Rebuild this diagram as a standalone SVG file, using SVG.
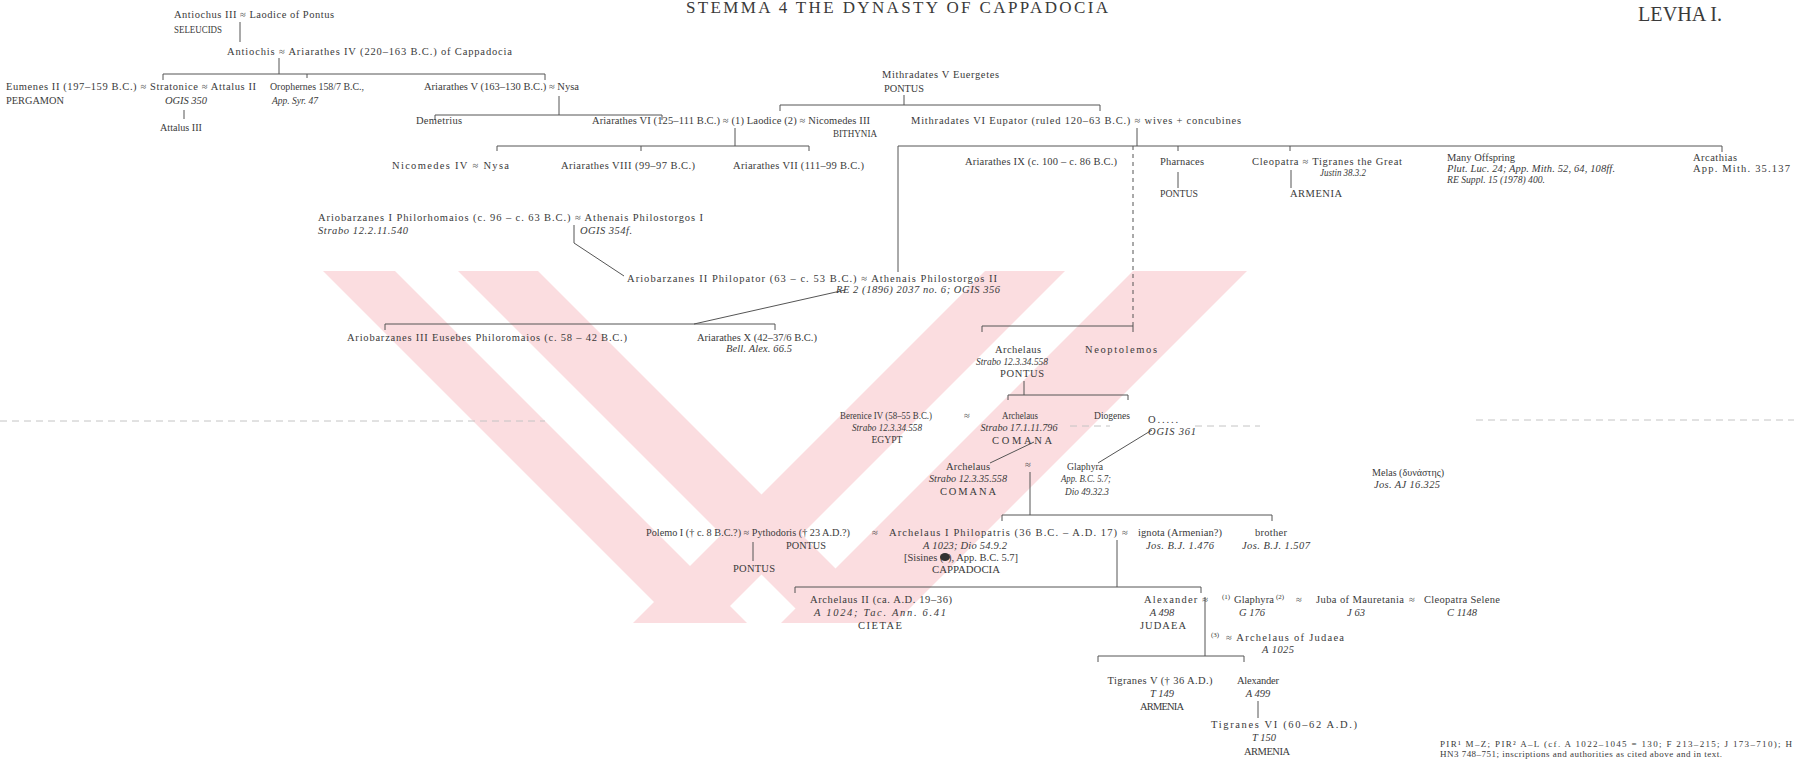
<svg xmlns="http://www.w3.org/2000/svg" width="1794" height="759" viewBox="0 0 1794 759" xml:space="preserve">
<style>
text{font-family:"Liberation Serif","Times New Roman",serif;font-size:10.5px;fill:#3a3a3a}
.i{font-style:italic}
.c{text-anchor:middle}
.sup{font-size:7px}
.ttl{font-size:17px}
.lev{font-size:22px}
.note{font-size:9px}
.ln{stroke:#555;stroke-width:1;fill:none}
.ds{stroke:#555;stroke-width:1;stroke-dasharray:4 4;fill:none}
.wm{fill:#fbdde0}
.scan{stroke:#c4c4c4;stroke-width:1;stroke-dasharray:7 5;fill:none}
</style>
<defs><clipPath id="wmclip"><rect x="0" y="271" width="1794" height="352"/></clipPath></defs>
<rect width="1794" height="759" fill="#fff"/>
<g id="watermark" clip-path="url(#wmclip)">
<polygon class="wm" points="323,271 395,271 747,623 675,623"/>
<polygon class="wm" points="458,271 538,271 890,623 810,623"/>
<polygon class="wm" points="1133,271 1247,271 895,623 781,623"/>
<polygon class="wm" points="985,271 1065,271 713,623 633,623"/>
</g>
<g id="scanline">
<path class="scan" d="M0 421 H545 M1070 426 H1110 M1195 426 H1260 M1476 420 H1794"/>
</g>
<g id="connectors">
<path class="ln" d="M240 22 V42 M279 58 V74 M163 80 V74 H545 V80 M307 74 V78 M184 110 V119"/>
<path class="ln" d="M559 96 V115 M435 120 V115 H662 V120"/>
<path class="ln" d="M904 95 V105 M780 111 V105 H1100 V111"/>
<path class="ln" d="M735 128 V146 M497 151 V146 H809 V151 M641 146 V151"/>
<path class="ln" d="M1137 128 V146 M898 272 V146 H1722 V152 M1178 146 V151 M1290 146 V151"/>
<path class="ds" d="M1133 146 V326"/>
<path class="ln" d="M1178 172 V188 M1291 170 V188"/>
<path class="ln" d="M574 225 V243 L624 276"/>
<path class="ln" d="M845 290 L694 324 M385 330 V324 H775 V330"/>
<path class="ln" d="M982 332 V326 H1133 V332"/>
<path class="ln" d="M1024 381 V395 M1008 400 V395 H1128 V400"/>
<path class="ln" d="M1034 442 L990 463 M1152 430 L1098 463"/>
<path class="ln" d="M1030 472 V515 M1002 521 V515 H1272 V521"/>
<path class="ln" d="M753 542 V561"/>
<path class="ln" d="M1117 540 V587 M795 593 V587 H1201 V593"/>
<path class="ln" d="M1205 597 V656 M1098 662 V656 H1244 V662"/>
<path class="ln" d="M1258 701 V718"/>
</g>
<g id="n-title"><text class="ttl" x="686" y="13" textLength="422">STEMMA 4  THE DYNASTY OF CAPPADOCIA</text></g>
<g id="n-levha"><text class="lev" x="1638" y="21" textLength="84" lengthAdjust="spacingAndGlyphs">LEVHA I.</text></g>
<g id="n-antiochus3">
<text x="174" y="18" textLength="160">Antiochus III  ≈  Laodice of Pontus</text>
<text x="174" y="33" textLength="48" lengthAdjust="spacingAndGlyphs">SELEUCIDS</text>
</g>
<g id="n-antiochis"><text x="227" y="55" textLength="285">Antiochis  ≈  Ariarathes IV (220–163 B.C.)  of  Cappadocia</text></g>
<g id="n-eumenes-stratonice">
<text x="6" y="90" textLength="250">Eumenes II (197–159 B.C.)  ≈  Stratonice  ≈  Attalus II</text>
<text x="6" y="104" textLength="58" lengthAdjust="spacingAndGlyphs">PERGAMON</text>
<text class="i" x="165" y="104" textLength="42">OGIS  350</text>
</g>
<g id="n-orophernes">
<text x="270" y="90" textLength="94" lengthAdjust="spacingAndGlyphs">Orophernes  158/7 B.C.,</text>
<text class="i" x="272" y="104" textLength="46" lengthAdjust="spacingAndGlyphs">App. Syr. 47</text>
</g>
<g id="n-ariarathes5"><text x="424" y="90" textLength="155">Ariarathes V  (163–130 B.C.)  ≈  Nysa</text></g>
<g id="n-attalus3"><text x="160" y="131" textLength="42" lengthAdjust="spacingAndGlyphs">Attalus III</text></g>
<g id="n-mithradates5">
<text x="882" y="78" textLength="117">Mithradates V  Euergetes</text>
<text x="884" y="92" textLength="40" lengthAdjust="spacingAndGlyphs">PONTUS</text>
</g>
<g id="n-demetrius"><text x="416" y="124" textLength="46">Demetrius</text></g>
<g id="n-ariarathes6">
<text x="592" y="124" textLength="278">Ariarathes VI (125–111 B.C.)  ≈  (1) Laodice (2)  ≈  Nicomedes III</text>
<text x="833" y="137" textLength="44" lengthAdjust="spacingAndGlyphs">BITHYNIA</text>
</g>
<g id="n-mithradates6"><text x="911" y="124" textLength="330">Mithradates VI  Eupator (ruled 120–63 B.C.)  ≈  wives + concubines</text></g>
<g id="n-nicomedes4"><text x="392" y="169" textLength="117">Nicomedes IV  ≈  Nysa</text></g>
<g id="n-ariarathes8"><text x="561" y="169" textLength="134">Ariarathes VIII (99–97 B.C.)</text></g>
<g id="n-ariarathes7"><text x="733" y="169" textLength="131">Ariarathes VII (111–99 B.C.)</text></g>
<g id="n-ariarathes9"><text x="965" y="165" textLength="152">Ariarathes IX (c. 100 – c. 86 B.C.)</text></g>
<g id="n-pharnaces">
<text x="1160" y="165" textLength="44">Pharnaces</text>
<text x="1160" y="197" textLength="38" lengthAdjust="spacingAndGlyphs">PONTUS</text>
</g>
<g id="n-cleopatra">
<text x="1252" y="165" textLength="150">Cleopatra  ≈  Tigranes the Great</text>
<text class="i" x="1320" y="176" textLength="46" lengthAdjust="spacingAndGlyphs">Justin 38.3.2</text>
<text x="1290" y="197" textLength="52">ARMENIA</text>
</g>
<g id="n-offspring">
<text x="1447" y="161" textLength="68">Many Offspring</text>
<text class="i" x="1447" y="172" textLength="168">Plut. Luc. 24; App. Mith. 52, 64, 108ff.</text>
<text class="i" x="1447" y="183" textLength="98" lengthAdjust="spacingAndGlyphs">RE Suppl. 15 (1978) 400.</text>
</g>
<g id="n-arcathias">
<text x="1693" y="161" textLength="44">Arcathias</text>
<text x="1693" y="172" textLength="97">App. Mith. 35.137</text>
</g>
<g id="n-ariobarzanes1">
<text x="318" y="221" textLength="385">Ariobarzanes I  Philorhomaios (c. 96 – c. 63 B.C.)  ≈  Athenais Philostorgos I</text>
<text class="i" x="318" y="234" textLength="90">Strabo 12.2.11.540</text>
<text class="i" x="580" y="234" textLength="52">OGIS 354f.</text>
</g>
<g id="n-ariobarzanes2">
<text x="627" y="282" textLength="370">Ariobarzanes II  Philopator (63 – c. 53 B.C.)  ≈  Athenais Philostorgos II</text>
<text class="i" x="836" y="293" textLength="164">RE 2 (1896) 2037 no. 6; OGIS 356</text>
</g>
<g id="n-ariobarzanes3"><text x="347" y="341" textLength="280">Ariobarzanes III  Eusebes  Philoromaios (c. 58 – 42 B.C.)</text></g>
<g id="n-ariarathes10">
<text x="697" y="341" textLength="120">Ariarathes X (42–37/6 B.C.)</text>
<text class="i" x="726" y="352" textLength="66">Bell. Alex. 66.5</text>
</g>
<g id="n-archelaus-pontus">
<text class="c" x="1018" y="353" textLength="46">Archelaus</text>
<text class="c i" x="1012" y="365" textLength="72" lengthAdjust="spacingAndGlyphs">Strabo 12.3.34.558</text>
<text class="c" x="1022" y="377" textLength="44">PONTUS</text>
</g>
<g id="n-neoptolemos"><text x="1085" y="353" textLength="72">Neoptolemos</text></g>
<g id="n-berenice">
<text class="c" x="886" y="419" textLength="92" lengthAdjust="spacingAndGlyphs">Berenice IV (58–55 B.C.)</text>
<text class="c i" x="887" y="431" textLength="70" lengthAdjust="spacingAndGlyphs">Strabo 12.3.34.558</text>
<text class="c" x="887" y="443" textLength="31" lengthAdjust="spacingAndGlyphs">EGYPT</text>
<text x="964" y="419">≈</text>
</g>
<g id="n-archelaus-comana1">
<text class="c" x="1020" y="419" textLength="36" lengthAdjust="spacingAndGlyphs">Archelaus</text>
<text class="c i" x="1019" y="431" textLength="77" lengthAdjust="spacingAndGlyphs">Strabo 17.1.11.796</text>
<text class="c" x="1022" y="444" textLength="60">COMANA</text>
</g>
<g id="n-diogenes"><text x="1094" y="419" textLength="36" lengthAdjust="spacingAndGlyphs">Diogenes</text></g>
<g id="n-o">
<text x="1148" y="423" textLength="30">O.....</text>
<text class="i" x="1148" y="435" textLength="48">OGIS 361</text>
</g>
<g id="n-archelaus-comana2">
<text class="c" x="968" y="470" textLength="44">Archelaus</text>
<text class="c i" x="968" y="482" textLength="78" lengthAdjust="spacingAndGlyphs">Strabo 12.3.35.558</text>
<text class="c" x="968" y="495" textLength="56">COMANA</text>
<text x="1025" y="468">≈</text>
</g>
<g id="n-glaphyra1">
<text class="c" x="1085" y="470" textLength="36" lengthAdjust="spacingAndGlyphs">Glaphyra</text>
<text class="c i" x="1086" y="482" textLength="50" lengthAdjust="spacingAndGlyphs">App. B.C. 5.7;</text>
<text class="c i" x="1087" y="495" textLength="44" lengthAdjust="spacingAndGlyphs">Dio 49.32.3</text>
</g>
<g id="n-polemo-pythodoris">
<text x="646" y="536" textLength="204" lengthAdjust="spacingAndGlyphs">Polemo I († c. 8 B.C.?)  ≈  Pythodoris († 23 A.D.?)</text>
<text x="786" y="549" textLength="40" lengthAdjust="spacingAndGlyphs">PONTUS</text>
<text x="872" y="536">≈</text>
</g>
<g id="n-pontus-child"><text class="c" x="754" y="572" textLength="42">PONTUS</text></g>
<g id="n-archelaus1">
<text x="889" y="536" textLength="228">Archelaus I  Philopatris (36 B.C. – A.D. 17)</text>
<text class="c i" x="965" y="549" textLength="84">A 1023; Dio 54.9.2</text>
<text class="c" x="961" y="561" textLength="114">[Sisines (?), App. B.C. 5.7]</text>
<text class="c" x="966" y="573" textLength="68" lengthAdjust="spacingAndGlyphs">CAPPADOCIA</text>
<ellipse cx="945" cy="557" rx="5" ry="4" fill="#333"/>
<text x="1122" y="536">≈</text>
</g>
<g id="n-ignota">
<text x="1138" y="536" textLength="84">ignota (Armenian?)</text>
<text class="i" x="1146" y="549" textLength="68">Jos. B.J. 1.476</text>
</g>
<g id="n-brother">
<text class="c" x="1271" y="536" textLength="32">brother</text>
<text class="c i" x="1276" y="549" textLength="68">Jos. B.J. 1.507</text>
</g>
<g id="n-archelaus2">
<text x="810" y="603" textLength="142">Archelaus II (ca. A.D. 19–36)</text>
<text class="c i" x="880" y="616" textLength="132">A 1024; Tac. Ann. 6.41</text>
<text class="c" x="880" y="629" textLength="44">CIETAE</text>
</g>
<g id="n-alexander">
<text x="1144" y="603" textLength="64">Alexander  ≈</text>
<text class="c i" x="1162" y="616">A 498</text>
<text class="c" x="1163" y="629" textLength="46">JUDAEA</text>
</g>
<g id="n-glaphyra2">
<text class="sup" x="1222" y="599">(1)</text>
<text x="1234" y="603" textLength="40">Glaphyra</text>
<text class="sup" x="1276" y="599">(2)</text>
<text x="1296" y="603">≈</text>
<text class="c i" x="1252" y="616">G 176</text>
</g>
<g id="n-juba">
<text x="1316" y="603" textLength="88">Juba of Mauretania</text>
<text class="c i" x="1356" y="616">J 63</text>
<text x="1409" y="603">≈</text>
</g>
<g id="n-cleopatra-selene">
<text x="1424" y="603" textLength="76">Cleopatra Selene</text>
<text class="c i" x="1462" y="616">C 1148</text>
</g>
<g id="n-archelaus-judaea">
<text class="sup" x="1211" y="637">(3)</text>
<text x="1226" y="641" textLength="118">≈  Archelaus of Judaea</text>
<text class="i" x="1262" y="653" textLength="32">A 1025</text>
</g>
<g id="n-tigranes5">
<text class="c" x="1160" y="684" textLength="105">Tigranes V († 36 A.D.)</text>
<text class="c i" x="1162" y="697">T 149</text>
<text class="c" x="1162" y="710" textLength="44">ARMENIA</text>
</g>
<g id="n-alexander2">
<text class="c" x="1258" y="684" textLength="42">Alexander</text>
<text class="c i" x="1258" y="697">A 499</text>
</g>
<g id="n-tigranes6">
<text x="1211" y="728" textLength="146">Tigranes VI (60–62 A.D.)</text>
<text class="c i" x="1264" y="741">T 150</text>
<text class="c" x="1267" y="755" textLength="46">ARMENIA</text>
</g>
<g id="n-melas">
<text x="1372" y="476" textLength="72" lengthAdjust="spacingAndGlyphs">Melas (δυνάστης)</text>
<text class="i" x="1374" y="488" textLength="66">Jos. AJ 16.325</text>
</g>
<g id="n-note">
<text class="note" x="1440" y="747" textLength="352">PIR¹ M–Z; PIR² A–L (cf. A 1022–1045 = 130; F 213–215; J 173–710); H</text>
<text class="note" x="1440" y="757" textLength="282">HN3 748–751; inscriptions and authorities as cited above and in text.</text>
</g>
</svg>
